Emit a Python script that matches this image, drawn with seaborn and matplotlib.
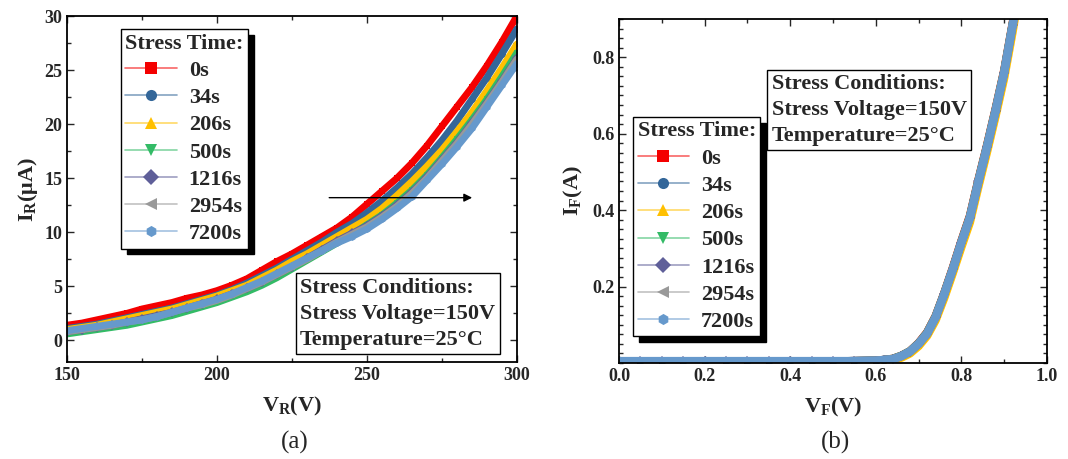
import numpy as np
import pandas as pd
import matplotlib
matplotlib.use('Agg')
import matplotlib.pyplot as plt
from matplotlib.lines import Line2D
from matplotlib.ticker import MultipleLocator
import seaborn as sns

sns.set_style('ticks')
plt.rcParams['font.family'] = ['Liberation Serif', 'DejaVu Serif']
plt.rcParams['font.weight'] = 'bold'
plt.rcParams['mathtext.fontset'] = 'custom'
plt.rcParams['mathtext.rm'] = 'Liberation Serif:bold'
plt.rcParams['mathtext.default'] = 'regular'

# stress times and styles
times = ['0s', '34s', '206s', '500s', '1216s', '2954s', '7200s']
colors = ['#f40000', '#336699', '#ffc000', '#33bb66', '#5f5f99', '#999999', '#6699cc']
markers = ['s', 'o', '^', 'v', 'D', '<', 'h']

# (a) reverse I-V, V_R in volts, I_R in uA
vr = [150, 155, 160, 165, 170, 175, 180, 185, 190, 195, 200, 205, 210, 215, 220, 225,
      230, 235, 240, 245, 250, 255, 260, 265, 270, 275, 280, 285, 290, 295, 300]
ir_0s = [1.4, 1.6, 1.9, 2.2, 2.5, 2.9, 3.2, 3.5, 3.9, 4.2, 4.6, 5.1, 5.7, 6.5, 7.3, 8.0,
         8.8, 9.6, 10.4, 11.4, 12.6, 13.8, 15.0, 16.4, 18.0, 19.8, 21.6, 23.4, 25.4, 27.6, 30.0]
ir_34s = [1.1, 1.3, 1.5, 1.8, 2.1, 2.4, 2.7, 3.0, 3.4, 3.8, 4.2, 4.7, 5.3, 6.0, 6.7, 7.5,
          8.3, 9.1, 10.0, 10.8, 11.8, 12.9, 14.1, 15.4, 16.9, 18.5, 20.3, 22.3, 24.3, 26.5, 28.8]
ir_206s = [1.0, 1.2, 1.4, 1.7, 2.0, 2.3, 2.6, 2.9, 3.3, 3.7, 4.1, 4.6, 5.1, 5.8, 6.5, 7.3,
           8.0, 8.8, 9.6, 10.4, 11.2, 12.2, 13.4, 14.7, 16.1, 17.6, 19.3, 21.1, 23.1, 25.2, 27.4]
ir_500s = [0.6, 0.8, 1.0, 1.2, 1.4, 1.7, 2.0, 2.3, 2.7, 3.1, 3.5, 4.0, 4.5, 5.1, 5.8, 6.6,
           7.4, 8.2, 9.0, 9.8, 10.7, 11.6, 12.7, 13.9, 15.3, 16.9, 18.6, 20.4, 22.3, 24.4, 26.6]
ir_1216s = [0.8, 1.0, 1.2, 1.4, 1.7, 2.0, 2.3, 2.6, 3.0, 3.4, 3.8, 4.3, 4.8, 5.4, 6.1, 6.8,
            7.6, 8.4, 9.2, 9.9, 10.6, 11.5, 12.5, 13.7, 15.1, 16.7, 18.3, 20.1, 22.0, 24.0, 26.1]
ir_2954s = [0.8, 1.0, 1.2, 1.4, 1.7, 1.9, 2.2, 2.6, 3.0, 3.3, 3.7, 4.2, 4.8, 5.4, 6.1, 6.8,
            7.5, 8.3, 9.1, 9.8, 10.5, 11.4, 12.4, 13.6, 15.0, 16.6, 18.2, 20.0, 21.9, 23.9, 26.0]
ir_7200s = [0.9, 1.1, 1.3, 1.5, 1.7, 1.9, 2.2, 2.6, 3.0, 3.4, 3.8, 4.3, 4.9, 5.5, 6.2, 6.9,
            7.6, 8.3, 9.0, 9.6, 10.3, 11.2, 12.2, 13.3, 14.8, 16.3, 17.9, 19.6, 21.6, 23.6, 25.6]

# (b) forward I-V, V_F in volts, I_F in A
vf = [0.0, 0.05, 0.1, 0.15, 0.2, 0.25, 0.3, 0.35, 0.4, 0.45, 0.5, 0.55, 0.6, 0.62, 0.64,
      0.66, 0.68, 0.70, 0.72, 0.74, 0.76, 0.78, 0.80, 0.82, 0.84, 0.86, 0.88, 0.90, 0.92, 0.93]
if_0s = [0.004, 0.004, 0.004, 0.004, 0.004, 0.004, 0.004, 0.004, 0.004, 0.004, 0.004, 0.005, 0.006, 0.008, 0.011,
         0.019, 0.031, 0.052, 0.080, 0.123, 0.183, 0.249, 0.319, 0.385, 0.480, 0.570, 0.665, 0.765, 0.890, 0.955]
if_34s = [0.004, 0.004, 0.004, 0.004, 0.004, 0.004, 0.004, 0.004, 0.004, 0.004, 0.004, 0.005, 0.006, 0.008, 0.010,
          0.018, 0.030, 0.050, 0.078, 0.121, 0.181, 0.246, 0.316, 0.381, 0.476, 0.566, 0.661, 0.761, 0.886, 0.951]
if_206s = [0.003, 0.003, 0.003, 0.003, 0.003, 0.003, 0.003, 0.003, 0.003, 0.003, 0.003, 0.003, 0.004, 0.005, 0.007,
           0.014, 0.025, 0.044, 0.071, 0.112, 0.170, 0.235, 0.303, 0.368, 0.462, 0.552, 0.646, 0.745, 0.868, 0.935]
if_500s = [0.004, 0.004, 0.004, 0.004, 0.004, 0.004, 0.004, 0.004, 0.004, 0.004, 0.004, 0.005, 0.006, 0.008, 0.011,
           0.019, 0.031, 0.051, 0.079, 0.122, 0.182, 0.247, 0.317, 0.383, 0.478, 0.568, 0.663, 0.763, 0.888, 0.953]
if_1216s = [0.004, 0.004, 0.004, 0.004, 0.004, 0.004, 0.004, 0.004, 0.004, 0.004, 0.004, 0.005, 0.006, 0.008, 0.010,
            0.018, 0.030, 0.050, 0.077, 0.120, 0.180, 0.245, 0.315, 0.380, 0.475, 0.565, 0.660, 0.760, 0.885, 0.950]
if_2954s = [0.004, 0.004, 0.004, 0.004, 0.004, 0.004, 0.004, 0.004, 0.004, 0.004, 0.004, 0.005, 0.006, 0.008, 0.010,
            0.018, 0.030, 0.050, 0.077, 0.120, 0.180, 0.245, 0.315, 0.380, 0.475, 0.565, 0.660, 0.760, 0.885, 0.950]
if_7200s = [0.005, 0.005, 0.005, 0.005, 0.005, 0.005, 0.005, 0.005, 0.005, 0.005, 0.005, 0.005, 0.006, 0.008, 0.010,
            0.018, 0.030, 0.050, 0.077, 0.120, 0.180, 0.245, 0.315, 0.380, 0.475, 0.565, 0.660, 0.760, 0.885, 0.950]

ir_all = [ir_0s, ir_34s, ir_206s, ir_500s, ir_1216s, ir_2954s, ir_7200s]
if_all = [if_0s, if_34s, if_206s, if_500s, if_1216s, if_2954s, if_7200s]

df_a = pd.concat([pd.DataFrame({'V': vr, 'I': v, 'time': t}) for t, v in zip(times, ir_all)])
df_b = pd.concat([pd.DataFrame({'V': vf, 'I': v, 'time': t}) for t, v in zip(times, if_all)])

fig = plt.figure(figsize=(10.68, 4.59), dpi=100)
ax1 = fig.add_axes([0.0627, 0.2113, 0.4213, 0.7538])
ax2 = fig.add_axes([0.5796, 0.2092, 0.4007, 0.7494])

for t, c, m in zip(times, colors, markers):
    sns.lineplot(data=df_a[df_a['time'] == t], x='V', y='I', color=c, marker=m, markersize=5,
                 markeredgewidth=0, lw=5, ax=ax1, legend=False, sort=False)
    sns.lineplot(data=df_b[df_b['time'] == t], x='V', y='I', color=c, marker=m, markersize=5,
                 markeredgewidth=0, lw=6, ax=ax2, legend=False, sort=False)

tick_kw = dict(direction='in', top=True, right=True, width=1.0)
for ax in [ax1, ax2]:
    ax.tick_params(which='major', length=5, labelsize=13, **tick_kw)
    ax.tick_params(which='minor', length=3, **tick_kw)
    for s in ax.spines.values():
        s.set_linewidth(1.3)
        s.set_color('black')

ax1.set_xlim(150, 300)
ax1.set_ylim(-2, 30)
ax1.xaxis.set_major_locator(MultipleLocator(50))
ax1.xaxis.set_minor_locator(MultipleLocator(25))
ax1.yaxis.set_major_locator(MultipleLocator(5))
ax1.yaxis.set_minor_locator(MultipleLocator(2.5))
ax1.set_xlabel(r'V$_{\mathregular{R}}$(V)', fontsize=16, fontweight='bold', labelpad=8)
ax1.set_ylabel(r'I$_{\mathregular{R}}$(μA)', fontsize=16, fontweight='bold', labelpad=3)

ax2.set_xlim(0, 1.0)
ax2.set_ylim(0, 0.9)
ax2.set_xticks([0.0, 0.2, 0.4, 0.6, 0.8, 1.0])
ax2.xaxis.set_minor_locator(MultipleLocator(0.1))
ax2.set_yticks([0.2, 0.4, 0.6, 0.8])
ax2.yaxis.set_minor_locator(MultipleLocator(0.025))
ax2.set_xlabel(r'V$_{\mathregular{F}}$(V)', fontsize=16, fontweight='bold', labelpad=8)
ax2.set_ylabel(r'I$_{\mathregular{F}}$(A)', fontsize=16, fontweight='bold', labelpad=5)
for ax in [ax1, ax2]:
    for lab in ax.get_xticklabels() + ax.get_yticklabels():
        lab.set_fontweight('bold')

# legends
handles = [Line2D([], [], color=matplotlib.colors.to_rgba(c, 0.6), marker=m, markersize=8, lw=1.2,
                  markerfacecolor=c, markeredgewidth=0) for c, m in zip(colors, markers)]
leg_kw = dict(title='Stress Time:', loc='upper left', borderaxespad=0, handlelength=2.3,
              handletextpad=0.55, labelspacing=0.3, borderpad=0.2, fancybox=False,
              edgecolor='black', framealpha=1, numpoints=1,
              shadow={'ox': 4, 'oy': -4, 'color': 'black', 'alpha': 1},
              prop={'size': 16, 'weight': 'bold'},
              title_fontproperties={'size': 16, 'weight': 'bold'})
l1 = ax1.legend(handles, times, bbox_to_anchor=(0.12, 0.962), **leg_kw)
l1._legend_box.align = 'left'
l1.get_frame().set_linewidth(1.0)
l2 = ax2.legend(handles, times, bbox_to_anchor=(0.033, 0.715), **leg_kw)
l2._legend_box.align = 'left'
l2.get_frame().set_linewidth(1.0)

cond = 'Stress Conditions:\nStress Voltage=150V\nTemperature=25°C'
box = dict(boxstyle='square,pad=0.2', facecolor='white', edgecolor='black', lw=1.0)
ax1.text(0.518, 0.243, cond, transform=ax1.transAxes, fontsize=16, fontweight='bold',
         va='top', ha='left', linespacing=1.4, bbox=box)
ax2.text(0.357, 0.84, cond, transform=ax2.transAxes, fontsize=16, fontweight='bold',
         va='top', ha='left', linespacing=1.4, bbox=box)

ax1.annotate('', xy=(286, 13.2), xytext=(236.5, 13.2),
             arrowprops=dict(arrowstyle='-|>', color='black', lw=1.0, mutation_scale=12))

fig.text(295 / 1068, 1 - 442 / 459, '(a)', ha='center', va='center', fontsize=18, fontweight='normal')
fig.text(835 / 1068, 1 - 442 / 459, '(b)', ha='center', va='center', fontsize=18, fontweight='normal')

fig.savefig('out.png', dpi=100)
